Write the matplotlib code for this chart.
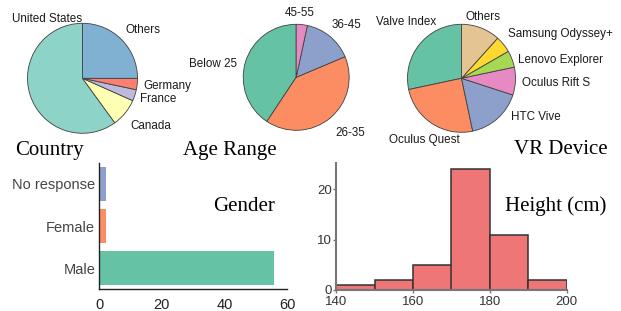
import matplotlib
matplotlib.use("Agg")
import matplotlib.pyplot as plt

# Survey data
country_labels = ['United States', 'Canada', 'France', 'Germany', 'Others']
country_counts = [36, 5, 2, 2, 15]

age_labels = ['Below 25', '26-35', '36-45', '45-55']
age_counts = [24, 24, 9, 2]

device_labels = ['Valve Index', 'Oculus Quest', 'HTC Vive', 'Oculus Rift S',
                 'Lenovo Explorer', 'Samsung Odyssey+', 'Others']
device_counts = [17, 15, 10, 5, 3, 3, 7]

gender_labels = ['Male', 'Female', 'No response']
gender_counts = [56, 2, 2]

height_edges = [140, 150, 160, 170, 180, 190, 200]
height_counts = [1, 2, 5, 24, 11, 2]

# Colours
set2 = ['#66c2a5', '#fc8d62', '#8da0cb', '#e78ac3', '#a6d854', '#ffd92f', '#e5c494']
set3 = ['#8dd3c7', '#ffffb3', '#bebada', '#fb8072', '#80b1d3']

# Label placement (pie units, relative to centre) -- layout only
country_pos = {'United States': (-0.01, 1.03, 'right'), 'Others': (0.785, 0.82, 'left'),
               'Germany': (1.105, -0.2, 'left'), 'France': (1.045, -0.425, 'left'),
               'Canada': (0.864, -0.927, 'left')}
age_pos = {'45-55': (-0.21, 1.157, 'left'), '36-45': (0.67, 0.925, 'left'),
           'Below 25': (-1.11, 0.2, 'right'), '26-35': (0.73, -1.11, 'left')}
device_pos = {'Valve Index': (-0.46, 0.99, 'right'), 'Others': (0.078, 1.08, 'left'),
              'Samsung Odyssey+': (0.867, 0.76, 'left'), 'Lenovo Explorer': (1.04, 0.29, 'left'),
              'Oculus Rift S': (1.115, -0.14, 'left'), 'HTC Vive': (0.91, -0.77, 'left'),
              'Oculus Quest': (-0.04, -1.19, 'right')}

W, H = 621, 311
sans = 'Liberation Sans'
serif = 'Liberation Serif'
plt.rcParams['font.family'] = sans

fig = plt.figure(figsize=(W / 100, H / 100), dpi=100)


def px_axes(x0, y0, x1, y1):
    return fig.add_axes([x0 / W, 1 - y1 / H, (x1 - x0) / W, (y1 - y0) / H])


def draw_pie(cx, cy, r, counts, colors, labels, pos):
    ax = px_axes(cx - 1.3 * r, cy - 1.3 * r, cx + 1.3 * r, cy + 1.3 * r)
    ax.pie(counts, colors=colors, startangle=90, counterclock=True,
           wedgeprops=dict(edgecolor='#404040', linewidth=0.6))
    ax.set_xlim(-1.3, 1.3)
    ax.set_ylim(-1.3, 1.3)
    ax.axis('off')
    for lab in labels:
        x, y, ha = pos[lab]
        ax.text(x, y, lab, ha=ha, va='baseline', fontsize=8.4, color='#1a1a1a')
    return ax


def title(x, y, s):
    fig.text(x / W, 1 - y / H, s, family=serif, fontsize=15, va='baseline', ha='left')


draw_pie(82.5, 78.3, 55, country_counts, set3, country_labels, country_pos)
draw_pie(296.2, 77.3, 53, age_counts, set2[:4], age_labels, age_pos)
draw_pie(461.5, 78.3, 54, device_counts, set2, device_labels, device_pos)

title(15, 155.5, 'Country')
title(183, 155.5, 'Age Range')
title(514, 154, 'VR Device')

# Gender bar chart
ax = px_axes(99.3, 162.7, 287, 289.3)
ax.barh(range(len(gender_labels)), gender_counts, height=0.8, color=set2[:3])
ax.set_yticks(range(len(gender_labels)))
ax.set_yticklabels(gender_labels)
ax.set_xlim(0, 60)
ax.set_ylim(-0.5, 2.5)
ax.set_xticks([0, 20, 40, 60])
for s in ['top', 'right']:
    ax.spines[s].set_visible(False)
for s in ['left', 'bottom']:
    ax.spines[s].set_color('#222222')
    ax.spines[s].set_linewidth(1.0)
ax.tick_params(axis='x', length=0, pad=6, labelsize=10.5, labelcolor='#222222')
ax.tick_params(axis='y', length=0, pad=3, labelsize=10.5, labelcolor='#444444')
title(213, 211, 'Gender')

# Height histogram
ax = px_axes(336.3, 163.3, 566.7, 290)
ax.bar(height_edges[:-1], height_counts, width=10, align='edge',
       color='#ef7677', edgecolor='#333333', linewidth=1.1)
ax.set_xlim(140, 200)
ax.set_ylim(0, 25.2)
ax.set_xticks([140, 160, 180, 200])
ax.set_yticks([0, 10, 20])
for s in ['top', 'right']:
    ax.spines[s].set_visible(False)
for s in ['left', 'bottom']:
    ax.spines[s].set_color('#777777')
    ax.spines[s].set_linewidth(1.5)
ax.tick_params(length=2, width=1, color='#777777', pad=1, labelsize=9.5, labelcolor='#333333')
ax.tick_params(axis='x', pad=2.5)
for lab in ax.get_yticklabels():
    lab.set_verticalalignment('center_baseline')
title(505, 211, 'Height (cm)')

fig.savefig('out.png', dpi=100)
